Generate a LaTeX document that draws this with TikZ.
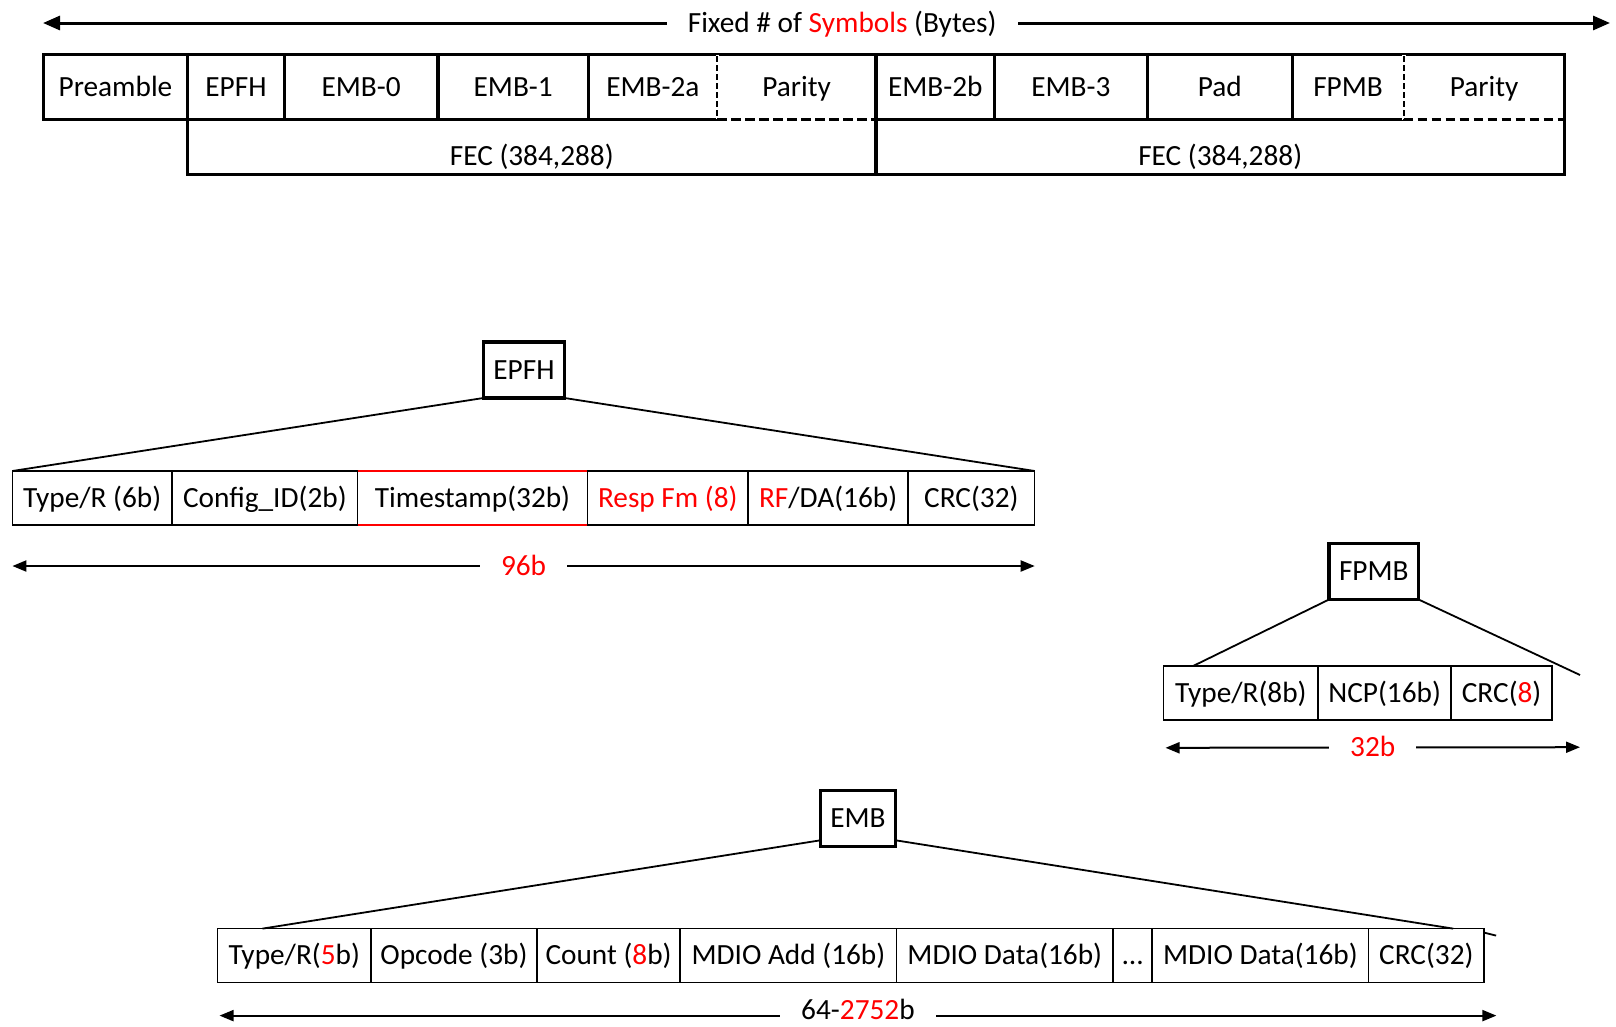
\documentclass[tikz,border=0pt]{standalone}
\usepackage{fontspec}
\setmainfont{Carlito}
\usetikzlibrary{arrows.meta,calc,positioning}
\tikzset{
    every node/.style={
	font=\fontsize{29.3pt}{35pt}\selectfont,
	text height=18.5pt,
	text depth=0pt
    },
    slot/.style={
	rectangle,
	draw=black,
	line width=3.2pt,
	minimum height=64.9pt,
	inner sep=0pt,
	outer sep=0pt
    },
    parity/.style={
	slot,
	draw=none
    },
    field/.style={
	rectangle,
	draw=black,
	line width=1.5pt,
	minimum height=54pt,
	inner sep=0pt,
	outer sep=0pt
    },
    block/.style={
	rectangle,
	draw=black,
	line width=3.2pt,
	minimum height=56pt,
	inner xsep=10pt,
	outer sep=0pt
    },
    fan/.style={
	draw=black,
	line width=1.8pt
    },
    spanline/.style={
	draw=black,
	line width=2pt,
	{Triangle[length=14pt,width=11pt]}-{Triangle[length=14pt,width=11pt]}
    },
    spanwide/.style={
	draw=black,
	line width=3pt,
	{Triangle[length=17pt,width=14pt]}-{Triangle[length=17pt,width=14pt]}
    },
    spanlabel/.style={
	fill=white,
	inner xsep=21pt,
	inner ysep=0pt
    },
    cut/.style={
	line width=3.2pt,
	dash pattern=on 9.5pt off 4.5pt
    },
    cutside/.style={
	line width=1.8pt,
	dash pattern=on 6pt off 3pt
    },
}

\begin{document}
\begin{tikzpicture}[x=1pt,y=-1pt]
    \useasboundingbox (0,0) rectangle (1616,1026);

    % burst of fixed length
    \node[slot, minimum width=144.3pt, anchor=north west] (PRE) at (43.3,54.6) {Preamble};
    \node[slot, minimum width=96.8pt, right=0pt of PRE] (EPFH1) {EPFH};
    \node[slot, minimum width=153.6pt, right=0pt of EPFH1] (EMB0) {EMB-0};
    \node[slot, minimum width=150.5pt, right=0pt of EMB0] (EMB1) {EMB-1};
    \node[slot, minimum width=128.8pt, right=0pt of EMB1] (EMB2A) {EMB-2a};
    \node[parity, minimum width=158.7pt, right=0pt of EMB2A] (PAR1) {Parity};
    \node[slot, minimum width=118.5pt, right=0pt of PAR1] (EMB2B) {EMB-2b};
    \node[slot, minimum width=152.6pt, right=0pt of EMB2B] (EMB3) {EMB-3};
    \node[slot, minimum width=145.3pt, right=0pt of EMB3] (PAD) {Pad};
    \node[slot, minimum width=111.3pt, right=0pt of PAD] (FPMB1) {FPMB};
    \node[parity, minimum width=160.7pt, right=0pt of FPMB1] (PAR2) {Parity};

    \draw[line width=3.2pt] (PAR1.north west) -- (PAR1.north east);
    \draw[line width=3.2pt] (PAR2.north west) -- (PAR2.north east) -- (PAR2.south east);
    \draw[white, line width=3.6pt] (PAR1.north west) -- (PAR1.south west)
	(PAR2.north west) -- (PAR2.south west);
    \draw[cut] (PAR1.south west) -- (PAR1.south east);
    \draw[cut] (PAR2.south west) -- (PAR2.south east);
    \draw[cutside] ($(PAR1.north west)+(0,1.6)$) -- (PAR1.south west);
    \draw[cutside] ($(PAR2.north west)+(0,1.6)$) -- (PAR2.south west);

    % FEC code words
    \draw[line width=3.2pt] (EPFH1.south west) |- ($(PAR2.south east)+(0,54.7)$) -- (PAR2.south east);
    \draw[line width=3.2pt] (EMB2B.south west) -- ++(0,54.7);
    \node (FECA) at (531.8,156.6) {FEC (384,288)};
    \node (FECB) at (1220.2,156.6) {FEC (384,288)};

    \coordinate (TL) at (43,23);
    \coordinate (TR) at (1610,23);
    \path (TL) edge[spanwide] node[spanlabel, pos=0.51]
	{Fixed \# of \textcolor{red}{Symbols} (Bytes)} (TR);

    % EPFH
    \node[block] (EPFH) at (524,370) {EPFH};
    \node[field, minimum width=159.7pt, anchor=north west] (TYPEA) at (12.4,471) {Type/R (6b)};
    \node[field, minimum width=185.5pt, right=0pt of TYPEA] (CFG) {Config\_ID(2b)};
    \node[field, minimum width=229.8pt, right=0pt of CFG] (TS) {Timestamp(32b)};
    \node[field, minimum width=160.8pt, right=0pt of TS, text=red] (RESP) {Resp Fm (8)};
    \node[field, minimum width=159.8pt, right=0pt of RESP] (RFDA) {\textcolor{red}{RF}/DA(16b)};
    \node[field, minimum width=126.7pt, right=0pt of RFDA] (CRCA) {CRC(32)};
    \draw[red, line width=1.5pt] (TS.north west) -- (TS.north east)
	(TS.south west) -- (TS.south east);

    \path (EPFH.south west) edge[fan] (TYPEA.north west);
    \path (EPFH.south east) edge[fan] (CRCA.north east);

    \coordinate (AL) at ($(TYPEA.south west)+(0,41)$);
    \coordinate (AR) at ($(CRCA.south east)+(0,41)$);
    \path (AL) edge[spanline] node[spanlabel, text=red] {96b} (AR);

    % FPMB
    \node[block] (FPMB) at (1373.8,571.5) {FPMB};
    \node[field, minimum width=154.7pt, anchor=north west] (TYPEC) at (1163.5,665.8) {Type/R(8b)};
    \node[field, minimum width=132.9pt, right=0pt of TYPEC] (NCP) {NCP(16b)};
    \node[field, minimum width=101pt, right=0pt of NCP] (CRCC) {CRC(\textcolor{red}{8})};

    \coordinate (FL) at ($(TYPEC.north west)+(30,0)$);
    \coordinate (FR) at (1580,675);
    \path (FPMB.south west) edge[fan] (FL);
    \path (FPMB.south east) edge[fan] (FR);

    \coordinate (BL) at ($(TYPEC.south west)+(2,28)$);
    \coordinate (BR) at (1580,747.2);
    \path (BL) edge[spanline] node[spanlabel, text=red] {32b} (BR);

    % EMB
    \node[block] (EMB) at (858,818.3) {EMB};
    \node[field, minimum width=153.5pt, anchor=north west] (TYPEE) at (217.5,928.6)
	{Type/R(\textcolor{red}{5}b)};
    \node[field, minimum width=165.9pt, right=0pt of TYPEE] (OPC) {Opcode (3b)};
    \node[field, minimum width=143.3pt, right=0pt of OPC] (CNT) {Count (\textcolor{red}{8}b)};
    \node[field, minimum width=216.4pt, right=0pt of CNT] (ADD) {MDIO Add (16b)};
    \node[field, minimum width=216.4pt, right=0pt of ADD] (DATA1) {MDIO Data(16b)};
    \node[field, minimum width=39.2pt, right=0pt of DATA1] (DOTS) {…};
    \node[field, minimum width=216.4pt, right=0pt of DOTS] (DATAN) {MDIO Data(16b)};
    \node[field, minimum width=115.5pt, right=0pt of DATAN] (CRCE) {CRC(32)};

    \coordinate (EL) at ($(TYPEE.north west)+(45,0)$);
    \coordinate (ER) at ($(CRCE.north east)+(-31,0)$);
    \path ($(EMB.south west)+(0,-6)$) edge[fan] (EL);
    \path ($(EMB.south east)+(0,-6)$) edge[fan] (ER);
    \draw[fan] ($(CRCE.north east)+(0,4)$) -- ++(12,3);

    \coordinate (CL) at ($(TYPEE.south west)+(2,33)$);
    \coordinate (CR) at ($(CRCE.south east)+(12.3,33)$);
    \path (CL) edge[spanline] node[spanlabel, yshift=5pt] {64-\textcolor{red}{2752}b} (CR);
\end{tikzpicture}
\end{document}
